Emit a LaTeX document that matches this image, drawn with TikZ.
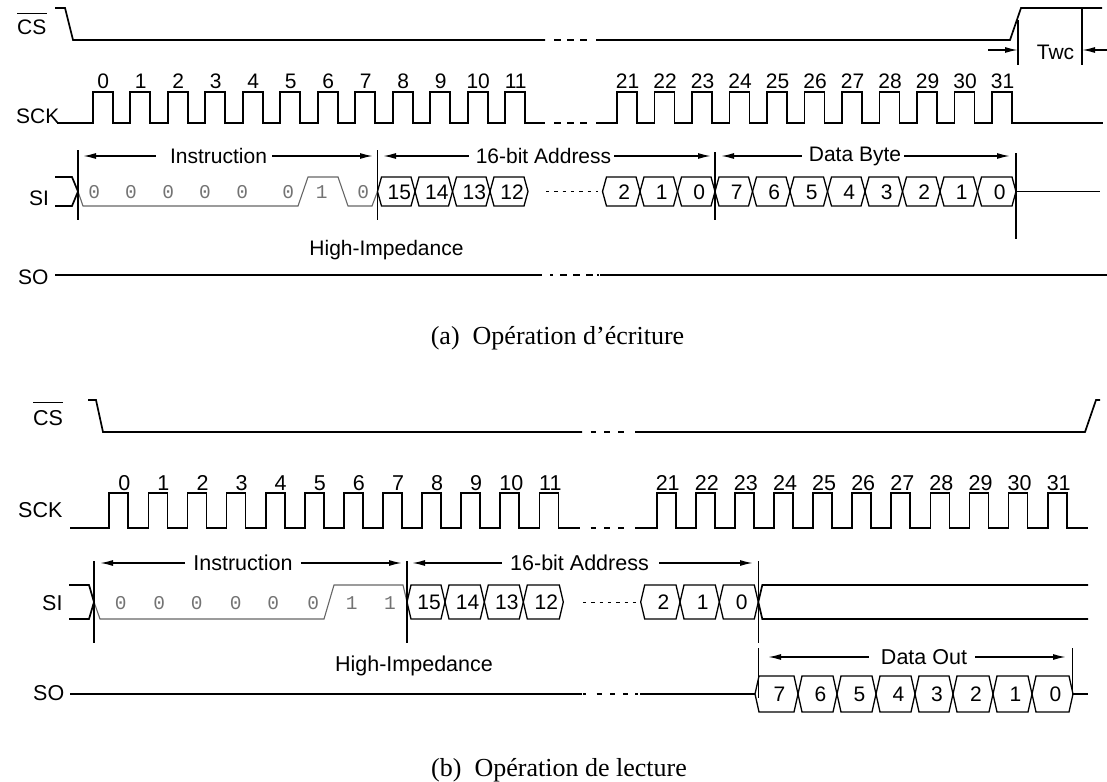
\documentclass[tikz,border=0pt]{standalone}
\usepackage{fontspec}
\setmainfont{Liberation Serif}
\newfontfamily\labf{Liberation Sans}
\newfontfamily\monof{Liberation Mono}
\usetikzlibrary{arrows.meta}
\newcommand\bcell[5]{%
  \draw[bus] (#1,{(#3+#4)/2}) -- ({#1+4},#3) -- ({#2-4},#3) -- (#2,{(#3+#4)/2}) -- ({#2-4},#4) -- ({#1+4},#4) -- cycle;
  \node[txt] at ({(#1+#2)/2+3},{(#3+#4)/2+0.5}) {#5};}
\begin{document}
\begin{tikzpicture}[x=1pt,y=-1pt,
  sig/.style={line width=1.7pt},
  gsig/.style={line width=1.1pt, draw=black!60},
  bus/.style={line width=1.3pt},
  vmark/.style={line width=1.5pt},
  arr/.style={line width=1.5pt,-{Latex[length=13pt,width=6pt]}},
  txt/.style={font=\labf\fontsize{21}{25}\selectfont, inner sep=0pt},
  txtb/.style={font=\labf\fontsize{21.5}{25}\selectfont, inner sep=0pt},
  gd/.style={font=\monof\fontsize{19.5}{22}\selectfont, text=black!55, inner sep=0pt},
  captxt/.style={font=\fontsize{26}{30}\selectfont, inner sep=0pt},
]
\useasboundingbox (0,0) rectangle (1107,781);
% ================= (a) write =================
% CS
\node[txt, anchor=base west] (csA) at (17,35) {CS};
\draw[line width=1.2pt] ([yshift=7pt]csA.north west) -- ([yshift=7pt]csA.north east);
\draw[sig] (55,8) -- (65,8) -- (73,40) -- (545,40);
\draw[sig, dash pattern=on 6.5pt off 6.5pt] (554,40) -- (590,40);
\draw[sig] (596,40) -- (1010,40) -- (1021,8) -- (1102,8);
% Twc
\coordinate (twL) at (1018,50);
\coordinate (twR) at (1082,50);
\draw[vmark] (1018,20) -- (1018,65);
\draw[vmark] (1082,8) -- (1082,65);
\draw[arr] (988,50) -- (twL);
\draw[arr] (1107,50) -- (twR);
\node[txt] (twc) at (1055.5,52) {Twc};
% SCK
\node[txt, anchor=base west] (sckA) at (16,124) {SCK};
\draw[sig] (57,123) \foreach \k in {0,...,11}{ -- ({92.7+37.5*\k},123) -- ++(0,-31) -- ++(20,0) -- ++(0,31)} -- (545,123);
\draw[sig, dash pattern=on 6.5pt off 6.5pt] (554,123) -- (590,123);
\draw[sig] (596,123) \foreach \k in {21,...,31}{ -- ({617+37.5*(\k-21)},123) -- ++(0,-31) -- ++(20,0) -- ++(0,31)} -- (1103,123);
\foreach \k in {0,...,11} \node[txt] (ca\k) at ({102.7+37.5*\k+0.5},81) {\k};
\foreach \k in {21,...,31} \node[txt] (ca\k) at ({627+37.5*(\k-21)+0.5},81) {\k};
% SI
\node[txt, anchor=base west] (siA) at (29,205.5) {SI};
\draw[sig] (55,177) -- (72,177) -- (78,191.5);
\draw[sig] (55,206) -- (72,206) -- (78,191.5);
\draw[gsig] (78,191.5) -- (83,206) -- (298,206) -- (308,177) -- (338,177) -- (348,206) -- (372,206) -- (377.5,191.5);
\foreach \x/\d [count=\i] in {94.3/0,131/0,168.3/0,205/0,242.3/0,288.3/0,321.7/1,363.3/0}
  \node[gd] (ia\i) at (\x,192) {\d};
\foreach \a/\b/\t in {377.5/415/15,415/452.5/14,452.5/490/13,490/528/12,602.5/640/2,640/677.5/1,677.5/715/0,
  715/752.5/7,752.5/790/6,790/827.5/5,827.5/865/4,865/902.5/3,902.5/940/2,940/977.5/1,977.5/1016/0}
  \bcell{\a}{\b}{177}{206}{\t};
\draw[line width=1pt, dash pattern=on 3.3pt off 5pt] (546,191.5) -- (598,191.5);
\draw[sig] (1016,191.5) -- (1100,191.5);
% markers
\draw[vmark] (78,150) -- (78,220);
\draw[vmark] (377.5,150) -- (377.5,220);
\draw[vmark] (715,152) -- (715,220);
\draw[vmark] (1016,153) -- (1016,239);
% arrows
\node[txt] (insA) at (218.5,156) {Instruction};
\draw[arr] ([xshift=-14pt]insA.west) -- (83,156);
\draw[arr] ([xshift=5pt]insA.east) -- (373,156);
\node[txt] (adA) at (543.5,156) {16-bit Address};
\draw[arr] ([xshift=-7pt]adA.west) -- (383,156);
\draw[arr] ([xshift=3pt]adA.east) -- (711,156);
\node[txt] (dbA) at (855,156) {Data Byte};
\draw[arr] ([xshift=-7pt]dbA.west) -- (721,156);
\draw[arr] ([xshift=3pt]dbA.east) -- (1010,156);
% SO
\node[txt, anchor=base west] (soA) at (18,284.5) {SO};
\node[txt] (hiA) at (386.5,250) {High-Impedance};
\draw[sig] (55,275) -- (542,275);
\foreach \p/\q in {550/553,560/566.5,573/579.5,586/592.5,597/599} \draw[sig] (\p,275) -- (\q,275);
\draw[sig] (600,275) -- (1107,275);
\node[captxt] (capA) at (557.5,338) {(a)\ \ Opération d'écriture};
% ================= (b) read =================
\node[txtb, anchor=base west] (csB) at (33,425) {CS};
\draw[line width=1.2pt] ([yshift=7pt]csB.north west) -- ([yshift=7pt]csB.north east);
\draw[sig] (88,400) -- (96,400) -- (103,432) -- (582,432);
\foreach \p/\q in {590.7/596,604.3/610,618.3/624} \draw[sig] (\p,432) -- (\q,432);
\draw[sig] (635,432) -- (1085,432) -- (1096,400) -- (1100,400);
% SCK
\node[txtb, anchor=base west] (sckB) at (18,517) {SCK};
\draw[sig] (70,528) \foreach \k in {0,...,11}{ -- ({109.3+39.1*\k},528) -- ++(0,-35.3) -- ++(19,0) -- ++(0,35.3)} -- (580,528);
\foreach \p/\q in {590.7/596,604.3/610,618.3/624} \draw[sig] (\p,528) -- (\q,528);
\draw[sig] (635,528) \foreach \k in {21,...,31}{ -- ({656.7+39.1*(\k-21)},528) -- ++(0,-35.3) -- ++(19,0) -- ++(0,35.3)} -- (1088,528);
\foreach \k in {0,...,9} \node[txtb] (cb\k) at ({118.8+39.1*\k+5.5},483) {\k};
\foreach \k in {10,11} \node[txtb] (cb\k) at ({118.8+39.1*\k+1.5},483) {\k};
\foreach \k in {21,...,31} \node[txtb] (cb\k) at ({666.2+39.1*(\k-21)+1.5},483) {\k};
% SI
\node[txtb, anchor=base west] (siB) at (42,610) {SI};
\draw[sig] (69,585) -- (89,585) -- (94,602);
\draw[sig] (69,619) -- (89,619) -- (94,602);
\draw[gsig] (94,602) -- (100,619) -- (324,619) -- (334,585) -- (403,585) -- (407,602);
\foreach \x/\d [count=\i] in {120.7/0,159.3/0,196.7/0,235.7/0,273.3/0,313.3/0,351.7/1,390/1}
  \node[gd] (ib\i) at (\x,603) {\d};
\foreach \a/\b/\t in {407/445/15,445/484.3/14,484.3/523.3/13,523.3/563.3/12,640.7/680/2,680/719.3/1,719.3/758.3/0}
  \bcell{\a}{\b}{585}{619}{\t};
\draw[line width=1pt, dash pattern=on 3.3pt off 5pt] (583,602) -- (637,602);
\draw[sig] (758.3,602) -- (762.3,585) -- (1088,585);
\draw[sig] (758.3,602) -- (762.3,619) -- (1088,619);
% markers
\draw[vmark] (94,561) -- (94,643);
\draw[vmark] (407,561) -- (407,643);
\draw[vmark] (758.5,561) -- (758.5,643);
\draw[vmark] (758.5,648) -- (758.5,698);
\draw[vmark] (1072.7,648) -- (1072.7,698);
% arrows
\node[txtb] (insB) at (243,563) {Instruction};
\draw[arr] ([xshift=-8pt]insB.west) -- (100,563);
\draw[arr] ([xshift=8pt]insB.east) -- (402,563);
\node[txtb] (adB) at (579.5,563) {16-bit Address};
\draw[arr] ([xshift=-8pt]adB.west) -- (412,563);
\draw[arr] ([xshift=10pt]adB.east) -- (753,563);
\node[txtb] (doB) at (924,657) {Data Out};
\draw[arr] ([xshift=-12pt]doB.west) -- (768,657);
\draw[arr] ([xshift=8pt]doB.east) -- (1066,657);
% SO
\node[txtb, anchor=base west] (soB) at (33,700) {SO};
\node[txtb] (hiB) at (414,666) {High-Impedance};
\draw[sig] (70,694) -- (582,694);
\foreach \p/\q in {583/586,596.7/601.7,610/615,623/628,635/638} \draw[sig] (\p,694) -- (\q,694);
\draw[sig] (640,694) -- (755,694);
\foreach \a/\b/\t in {755/798/7,798/837/6,837/876/5,876/915/4,915/953/3,953/993/2,993/1032/1,1032/1073/0}
  \bcell{\a}{\b}{676}{712}{\t};
\draw[sig] (1073,694) -- (1088,694);
\node[captxt] (capB) at (559,770) {(b)\ \ Opération de lecture};
\end{tikzpicture}
\end{document}
